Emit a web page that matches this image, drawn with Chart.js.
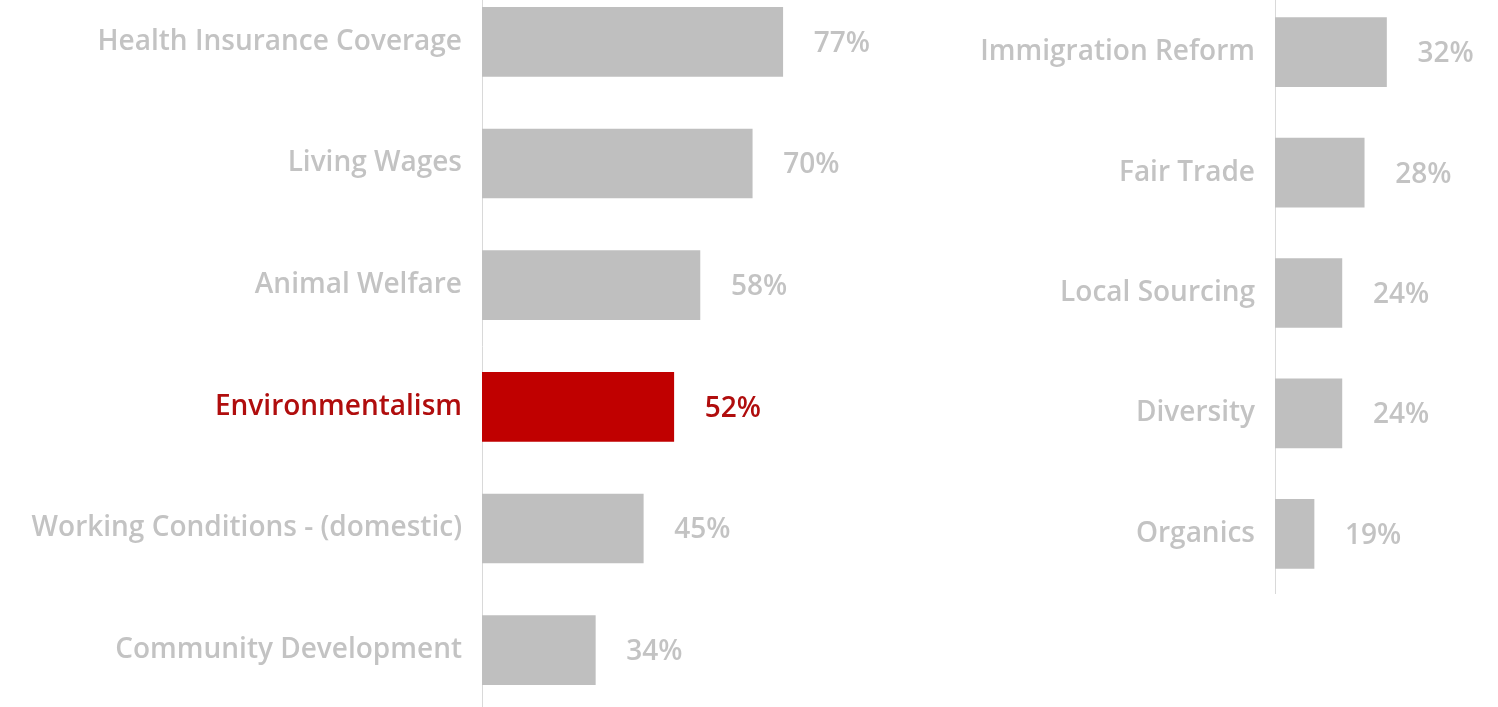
<!DOCTYPE html>
<html>
<head>
<meta charset="utf-8">
<script src="https://cdn.jsdelivr.net/npm/chart.js@4/dist/chart.umd.min.js"></script>
<style>
  html, body { margin: 0; padding: 0; background: #fff; overflow: hidden; }
  body { width: 1498px; height: 707px; position: relative; }
  .panel { position: absolute; }
  #leftWrap { left: 0; top: -19px; width: 883px; height: 730px; }
  #rightWrap { left: 900px; top: -8px; width: 598px; height: 602px; }
</style>
</head>
<body>
<div class="panel" id="leftWrap"><canvas id="leftChart"></canvas></div>
<div class="panel" id="rightWrap"><canvas id="rightChart"></canvas></div>
<script>
document.addEventListener('DOMContentLoaded', () => {
  const leftCategories = ['Health Insurance Coverage', 'Living Wages', 'Animal Welfare',
    'Environmentalism', 'Working Conditions - (domestic)', 'Community Development'];
  const leftValues = [77, 70, 58, 52, 45, 34];
  const leftHighlight = 3; // Environmentalism

  const rightCategories = ['Immigration Reform', 'Fair Trade', 'Local Sourcing', 'Diversity', 'Organics'];
  const rightValues = [32, 28, 24, 24, 19];

  const grey = '#bfbfbf';
  const greyText = '#c3c3c3';
  const red = '#c00000';
  const redText = '#b00d0d';
  const fontFamily = "'Open Sans', 'DejaVu Sans', sans-serif";

  Chart.defaults.font.family = fontFamily;
  Chart.defaults.animation = false;

  // draws the "77%" style labels to the right of each bar
  const valueLabels = {
    id: 'valueLabels',
    afterDatasetsDraw(chart) {
      const ctx = chart.ctx;
      const hl = chart.options.plugins.valueLabels.highlight;
      const meta = chart.getDatasetMeta(0);
      ctx.save();
      ctx.font = '600 28px ' + fontFamily;
      ctx.textBaseline = 'middle';
      ctx.textAlign = 'left';
      meta.data.forEach((bar, i) => {
        const v = chart.data.datasets[0].data[i];
        ctx.fillStyle = i === hl ? redText : greyText;
        ctx.fillText(v + '%', bar.x + 31, bar.y + 2);
      });
      ctx.restore();
    }
  };

  function makeChart(canvasId, labels, values, highlight, xMin, xMax, axisWidth) {
    return new Chart(document.getElementById(canvasId).getContext('2d'), {
      type: 'bar',
      data: {
        labels: labels,
        datasets: [{
          data: values,
          backgroundColor: values.map((v, i) => i === highlight ? red : grey),
          borderWidth: 0,
          barThickness: 69
        }]
      },
      options: {
        indexAxis: 'y',
        responsive: true,
        maintainAspectRatio: false,
        layout: { padding: 0 },
        plugins: {
          legend: { display: false },
          tooltip: { enabled: false },
          valueLabels: { highlight: highlight }
        },
        scales: {
          x: {
            display: false,
            min: xMin,
            max: xMax
          },
          y: {
            afterFit: s => {
              s.width = axisWidth;
              s.paddingTop = 0;
              s.paddingBottom = 0;
            },
            grid: { display: false, drawTicks: false },
            border: { display: true, color: '#d9d9d9', width: 1 },
            ticks: {
              padding: 20,
              color: c => c.index === highlight ? redText : greyText,
              font: { size: 28, weight: '600' }
            }
          }
        }
      },
      plugins: [valueLabels]
    });
  }

  makeChart('leftChart', leftCategories, leftValues, leftHighlight, 8, 100, 482);
  makeChart('rightChart', rightCategories, rightValues, -1, 12, 52, 375);
});
</script>
</body>
</html>
